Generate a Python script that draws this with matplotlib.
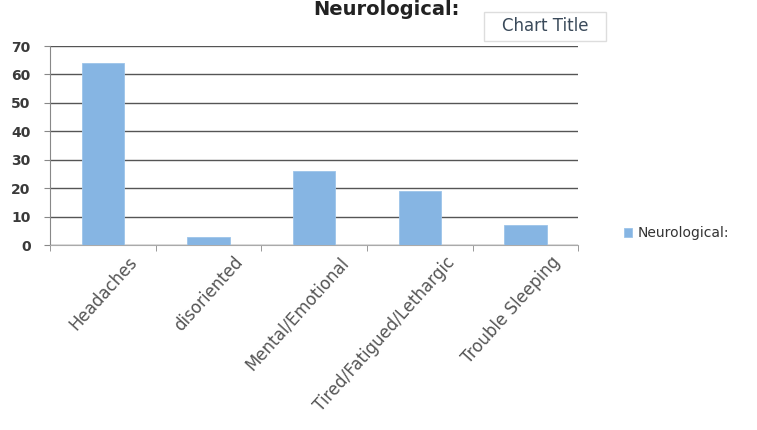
import matplotlib.pyplot as plt
from matplotlib.patches import FancyBboxPatch
from matplotlib.transforms import ScaledTranslation

categories = ['Headaches', 'disoriented', 'Mental/Emotional',
              'Tired/Fatigued/Lethargic', 'Trouble Sleeping']
values = [64, 3, 26, 19, 7]
yticks = [0, 10, 20, 30, 40, 50, 60, 70]

bar_color = '#86b5e3'
text_color = '#555555'

fig = plt.figure(figsize=(7.57, 4.30), dpi=100)
ax = fig.add_axes([0.066, 0.430, 0.698, 0.463])

x = range(len(categories))
bars = ax.bar(x, values, width=0.4, color=bar_color, edgecolor='#9cc4ea',
              linewidth=0.6, label='Neurological:', zorder=3)

ax.set_ylim(0, 70)
ax.set_xlim(-0.5, len(categories) - 0.5)
ax.set_yticks(yticks)
ax.set_yticklabels([str(v) for v in yticks], fontsize=10, color='#3a3a3a',
                   fontweight='semibold')
ax.yaxis.grid(True, color='#555555', linewidth=1.0, zorder=0)
ax.set_axisbelow(True)

ax.set_xticks(list(x))
ax.set_xticklabels(categories, rotation=48, ha='right',
                   rotation_mode='anchor', fontsize=12, color=text_color)
ax.tick_params(axis='x', length=0, pad=6)
# shift labels a little right so they end near the bar's right edge
offset = ScaledTranslation(0.25, 0, fig.dpi_scale_trans)
for lbl in ax.get_xticklabels():
    lbl.set_transform(lbl.get_transform() + offset)
ax.set_xticks([i - 0.5 for i in range(len(categories) + 1)], minor=True)
ax.tick_params(axis='x', which='minor', length=4, color='#888888')
ax.tick_params(axis='y', length=4, color='#888888', pad=10)

for side in ['top', 'right']:
    ax.spines[side].set_visible(False)
ax.spines['left'].set_color('#888888')
ax.spines['bottom'].set_color('#aaaaaa')

# title at the very top edge
fig.text(0.510, 0.999, 'Neurological:', ha='center', va='top',
         fontsize=14, fontweight='bold', color='#222222')

# "Chart Title" placeholder box
box = FancyBboxPatch((0.640, 0.905), 0.160, 0.068,
                     boxstyle='square,pad=0', transform=fig.transFigure,
                     facecolor='white', edgecolor='#dddddd', linewidth=1.0)
fig.patches.append(box)
fig.text(0.720, 0.940, 'Chart Title', ha='center', va='center',
         fontsize=12, color='#3a4a5a')

fig.legend(handles=[bars], labels=['Neurological:'], loc='center left',
           bbox_to_anchor=(0.808, 0.458), frameon=False, fontsize=10,
           handlelength=0.6, handleheight=0.6, handletextpad=0.4,
           labelcolor='#333333')

fig.savefig('out.png', dpi=100)
